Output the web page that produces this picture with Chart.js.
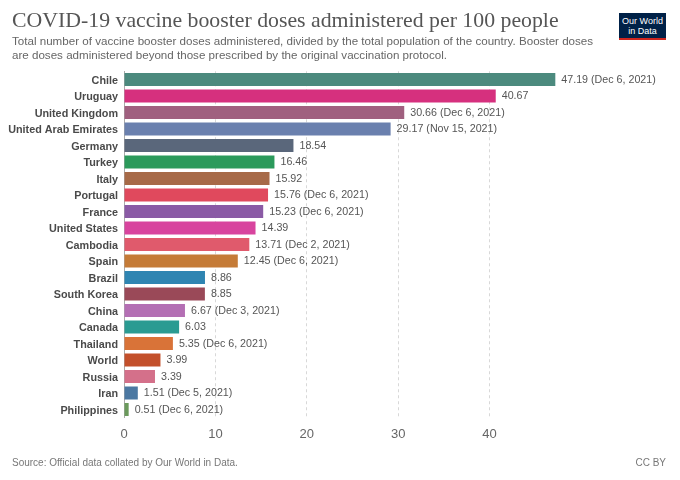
<!DOCTYPE html>
<html>
<head>
<meta charset="utf-8">
<script src="https://cdn.jsdelivr.net/npm/chart.js@4.4.0/dist/chart.umd.min.js"></script>
<style>
  body { margin: 0; background: #fff; }
  #wrap { position: relative; width: 680px; height: 480px; overflow: hidden; }
  #chart { position: absolute; left: 0; top: 0; }
  .title { position: absolute; left: 12px; top: 8px; font: 21.8px "Liberation Serif", serif; color: #555; white-space: nowrap; }
  .sub { position: absolute; left: 12px; top: 34px; font: 11.6px "Liberation Sans", Arial, sans-serif; line-height: 14px; color: #666; white-space: nowrap; }
  .logo { position: absolute; left: 619px; top: 13px; width: 47px; background: #002147; border-bottom: 2px solid #ce261e;
          color: #fff; font: 9px "Liberation Sans", Arial, sans-serif; line-height: 10px; text-align: center; padding-top: 3px; height: 22px; }
  .src { position: absolute; left: 12px; top: 457px; font: 10px "Liberation Sans", Arial, sans-serif; color: #777; }
  .cc { position: absolute; right: 14px; top: 457px; font: 10px "Liberation Sans", Arial, sans-serif; color: #777; }
</style>
</head>
<body>
<div id="wrap">
  <canvas id="chart" width="680" height="480"></canvas>
  <div class="title">COVID-19 vaccine booster doses administered per 100 people</div>
  <div class="sub">Total number of vaccine booster doses administered, divided by the total population of the country. Booster doses<br>are doses administered beyond those prescribed by the original vaccination protocol.</div>
  <div class="logo">Our World<br>in Data</div>
  <div class="src">Source: Official data collated by Our World in Data.</div>
  <div class="cc">CC BY</div>
</div>
<script>
// booster doses per 100 people
const countries = ['Chile', 'Uruguay', 'United Kingdom', 'United Arab Emirates', 'Germany', 'Turkey', 'Italy',
  'Portugal', 'France', 'United States', 'Cambodia', 'Spain', 'Brazil', 'South Korea', 'China', 'Canada',
  'Thailand', 'World', 'Russia', 'Iran', 'Philippines'];
const doses = [47.19, 40.67, 30.66, 29.17, 18.54, 16.46, 15.92, 15.76, 15.23, 14.39, 13.71, 12.45,
  8.86, 8.85, 6.67, 6.03, 5.35, 3.99, 3.39, 1.51, 0.51];
const dates = ['Dec 6, 2021', '', 'Dec 6, 2021', 'Nov 15, 2021', '', '', '', 'Dec 6, 2021', 'Dec 6, 2021', '',
  'Dec 2, 2021', 'Dec 6, 2021', '', '', 'Dec 3, 2021', '', 'Dec 6, 2021', '', '', 'Dec 5, 2021', 'Dec 6, 2021'];
const barColors = ['#4c8a7e', '#d6307e', '#a0607f', '#6a80ae', '#5a677b', '#2b9a5b', '#a76a48',
  '#e0495d', '#8a5aa5', '#d8449e', '#e05a6c', '#c57b37', '#2f85b2', '#9a4958', '#b46fb4', '#2a9b92',
  '#d97338', '#c3502b', '#d4708a', '#4b78a2', '#6b9a5c'];
const xTicks = [0, 10, 20, 30, 40];

// value + date label to the right of each bar
const valueLabels = {
  id: 'valueLabels',
  afterDatasetsDraw(chart) {
    const ctx = chart.ctx;
    const meta = chart.getDatasetMeta(0);
    ctx.save();
    ctx.font = '10.7px "Liberation Sans", Arial, sans-serif';
    ctx.fillStyle = '#555';
    ctx.textBaseline = 'middle';
    meta.data.forEach((bar, i) => {
      const txt = doses[i].toFixed(2) + (dates[i] ? ' (' + dates[i] + ')' : '');
      ctx.fillText(txt, bar.x + 6, bar.y + 0.5);
    });
    ctx.restore();
  }
};

new Chart(document.getElementById('chart'), {
  type: 'bar',
  data: {
    labels: countries,
    datasets: [{
      data: doses,
      backgroundColor: barColors,
      borderWidth: 0,
      barPercentage: 0.79,
      categoryPercentage: 1,
    }]
  },
  options: {
    indexAxis: 'y',
    responsive: false,
    animation: false,
    layout: { padding: { top: 71.25, bottom: 32.25, left: 0, right: 99 } },
    plugins: { legend: { display: false }, tooltip: { enabled: false } },
    scales: {
      x: {
        min: 0, max: 50,
        afterBuildTicks: s => { s.ticks = xTicks.map(v => ({ value: v })); },
        afterFit: s => { s.height = 30; },
        grid: {
          drawTicks: false,
          color: c => c.tick && c.tick.value === 0 ? 'rgba(0,0,0,0)' : '#d8d8d8',
        },
        border: { display: false, dash: [3, 3] },
        ticks: { padding: 9, color: '#666', font: { family: 'Liberation Sans', size: 13 } },
      },
      y: {
        afterFit: s => { s.width = 124; },
        grid: { display: false, drawTicks: false },
        border: { display: true, color: '#aaa', width: 1 },
        ticks: { autoSkip: false, padding: 6, labelOffset: 1.5, color: '#4a4a4a', font: { family: 'Liberation Sans', size: 10.8, weight: 'bold' } },
      }
    }
  },
  plugins: [valueLabels]
});
</script>
</body>
</html>
